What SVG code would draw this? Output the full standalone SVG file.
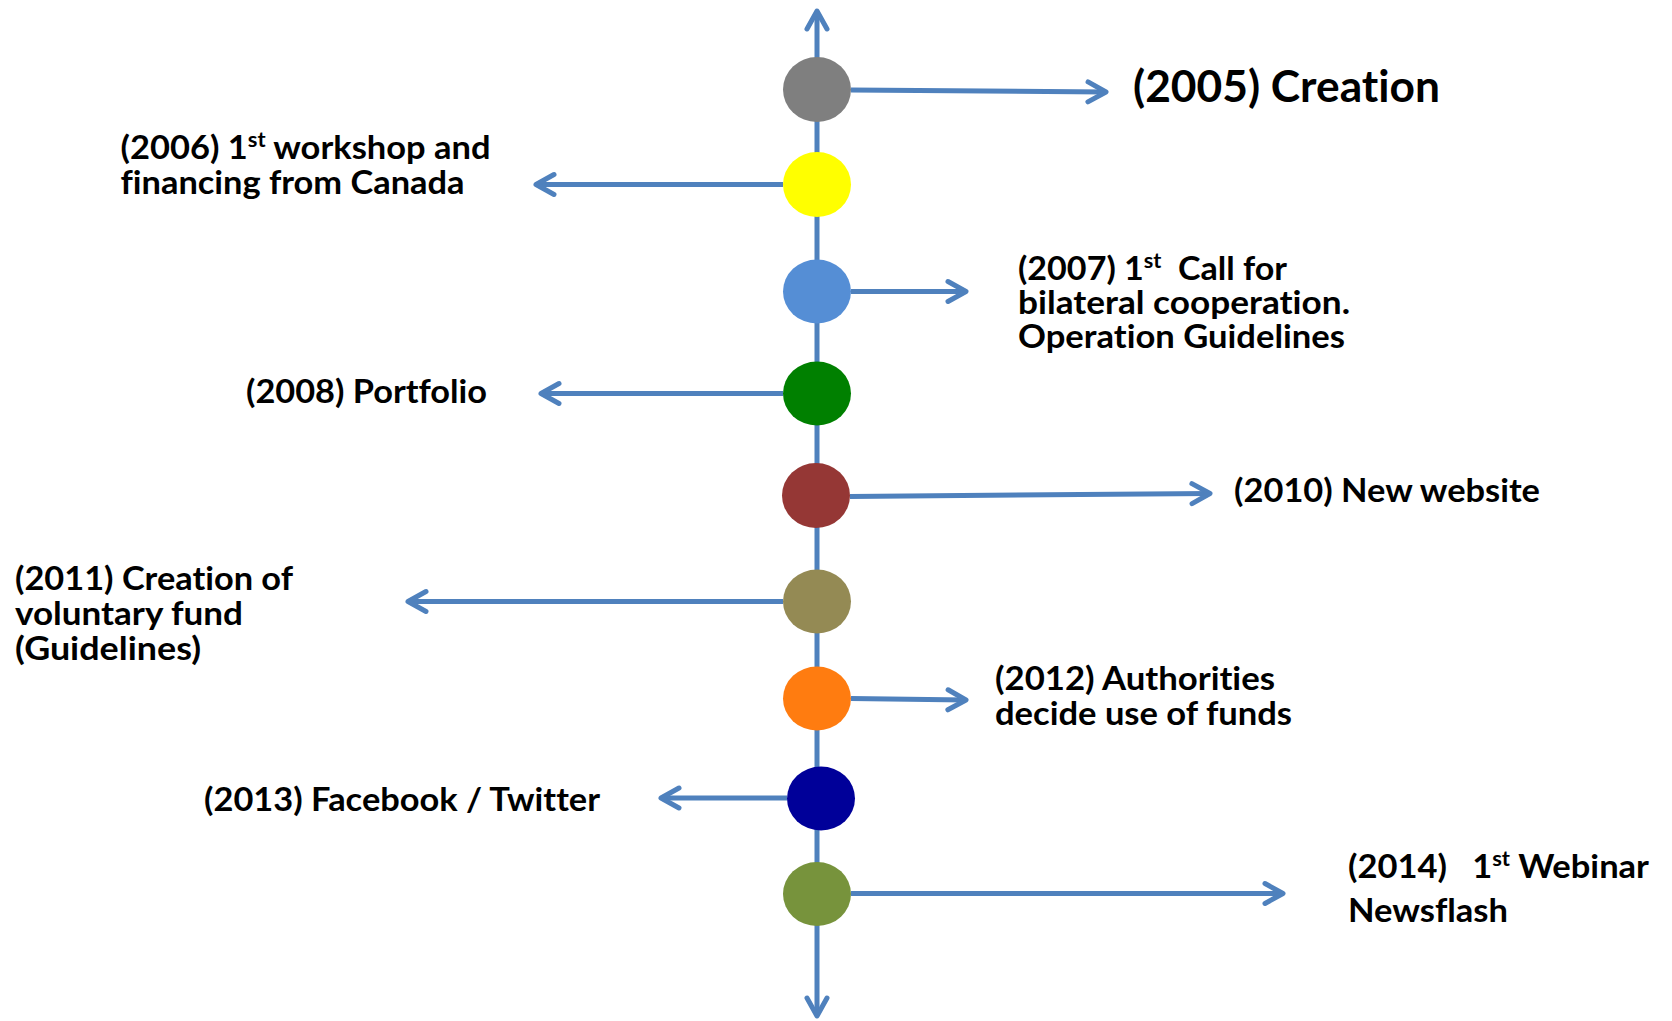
<svg xmlns="http://www.w3.org/2000/svg" width="1672" height="1021" viewBox="0 0 1672 1021">
<style>
.c{fill:none;stroke:#4F81BD;stroke-width:5;marker-end:url(#ah)}
.t{font-family:Lato,"Open Sans","Liberation Sans",sans-serif;font-weight:700;font-size:33px;fill:#000;font-variant-ligatures:none;font-feature-settings:"liga" 0,"clig" 0}
.ttl{font-size:43px}
.sup{font-size:21px}
</style>
<defs>
<marker id="ah" markerUnits="userSpaceOnUse" viewBox="-25 -15 30 30" refX="0" refY="0" markerWidth="30" markerHeight="30" orient="auto-start-reverse">
<path d="M-18,-10 L0,0 L-18,10" fill="none" stroke="#4F81BD" stroke-width="5" stroke-linecap="round" stroke-linejoin="round"/>
</marker>
</defs>
<rect width="1672" height="1021" fill="#fff"/>
<g id="connectors">
<path class="c" d="M817,1016 L817,11" style="marker-start:url(#ah)"/>
<path class="c" d="M851,90 L1106,92"/>
<path class="c" d="M783,184.5 L536,184.5"/>
<path class="c" d="M851,291.5 L966,291.5"/>
<path class="c" d="M783,393.5 L541,393.5"/>
<path class="c" d="M850,496.5 L1210,493.5"/>
<path class="c" d="M783,601.5 L408,601.5"/>
<path class="c" d="M851,698.5 L966,700"/>
<path class="c" d="M787,798 L661,798"/>
<path class="c" d="M851,893.5 L1283,893.5"/>
</g>
<g id="n2005"><ellipse cx="817" cy="89.5" rx="34" ry="32.5" fill="#7F7F7F"/><text class="t ttl" x="1133" y="102" textLength="307" lengthAdjust="spacingAndGlyphs">(2005) Creation</text></g>
<g id="n2006"><ellipse cx="817" cy="184.5" rx="34" ry="32.5" fill="#FFFF00"/>
<text class="t" x="120.5" y="159" textLength="370" lengthAdjust="spacingAndGlyphs">(2006) 1<tspan class="sup" dy="-12">st</tspan><tspan dy="12"> workshop and</tspan></text>
<text class="t" x="120.5" y="194" textLength="344" lengthAdjust="spacingAndGlyphs">financing from Canada</text></g>
<g id="n2007"><ellipse cx="817" cy="291.5" rx="34" ry="32" fill="#558ED5"/>
<text class="t" x="1018" y="280" textLength="269" lengthAdjust="spacingAndGlyphs">(2007) 1<tspan class="sup" dy="-12">st</tspan><tspan dy="12">&#160; Call for</tspan></text>
<text class="t" x="1018" y="314" textLength="332" lengthAdjust="spacingAndGlyphs">bilateral cooperation.</text>
<text class="t" x="1018" y="348" textLength="327" lengthAdjust="spacingAndGlyphs">Operation Guidelines</text></g>
<g id="n2008"><ellipse cx="817" cy="393.5" rx="34" ry="32" fill="#008000"/>
<text class="t" x="246" y="403" textLength="241" lengthAdjust="spacingAndGlyphs">(2008) Portfolio</text></g>
<g id="n2010"><ellipse cx="816" cy="495.5" rx="34" ry="32.5" fill="#953735"/>
<text class="t" x="1234" y="502" textLength="306" lengthAdjust="spacingAndGlyphs">(2010) New website</text></g>
<g id="n2011"><ellipse cx="817" cy="601.5" rx="34" ry="32" fill="#948A54"/>
<text class="t" x="15" y="590" textLength="278" lengthAdjust="spacingAndGlyphs">(2011) Creation of</text>
<text class="t" x="15" y="625" textLength="228" lengthAdjust="spacingAndGlyphs">voluntary fund</text>
<text class="t" x="15" y="660" textLength="186" lengthAdjust="spacingAndGlyphs">(Guidelines)</text></g>
<g id="n2012"><ellipse cx="817" cy="698.5" rx="34" ry="32" fill="#FF7C10"/>
<text class="t" x="995" y="690" textLength="280" lengthAdjust="spacingAndGlyphs">(2012) Authorities</text>
<text class="t" x="995" y="725" textLength="297" lengthAdjust="spacingAndGlyphs">decide use of funds</text></g>
<g id="n2013"><ellipse cx="821" cy="798.5" rx="34" ry="32" fill="#000099"/>
<text class="t" x="204" y="811" textLength="396" lengthAdjust="spacingAndGlyphs">(2013) Facebook / Twitter</text></g>
<g id="n2014"><ellipse cx="817" cy="894" rx="34" ry="32" fill="#77933C"/>
<text class="t" x="1348" y="878" textLength="301" lengthAdjust="spacingAndGlyphs">(2014)&#160;&#160; 1<tspan class="sup" dy="-12">st</tspan><tspan dy="12"> Webinar</tspan></text>
<text class="t" x="1348" y="922" textLength="160" lengthAdjust="spacingAndGlyphs">Newsflash</text></g>
</svg>
